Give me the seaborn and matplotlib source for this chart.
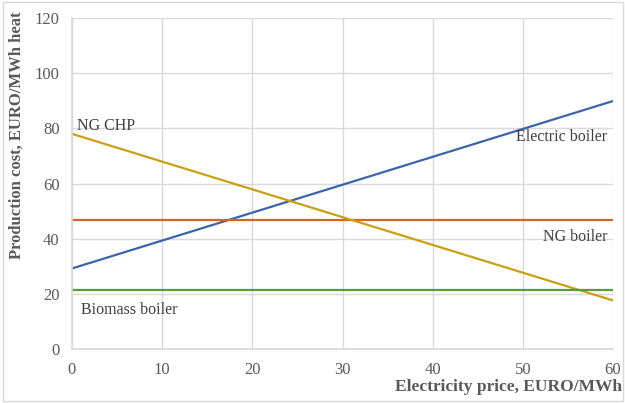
import numpy as np
import pandas as pd
import matplotlib
matplotlib.use("Agg")
import matplotlib.pyplot as plt
import seaborn as sns

# electricity price (EURO/MWh) at line ends
price = [0, 60]
electric_boiler = [29.2, 89.9]
ng_boiler = [46.6, 46.6]
ng_chp = [78.0, 17.6]
biomass_boiler = [21.3, 21.3]

series = ["Electric boiler", "NG boiler", "NG CHP", "Biomass boiler"]
df = pd.DataFrame({
    "price": price * 4,
    "cost": electric_boiler + ng_boiler + ng_chp + biomass_boiler,
    "tech": [s for s in series for _ in price],
})

palette = {"Electric boiler": "#3C63AC", "NG boiler": "#D6651F",
           "NG CHP": "#C9A012", "Biomass boiler": "#5A9A3A"}

sns.set_theme(style="whitegrid")
plt.rcParams['font.family'] = ['Liberation Serif', 'DejaVu Serif']
grey = "#595959"

fig = plt.figure(figsize=(6.25, 4.03), dpi=100)
ax = fig.add_axes([72/625, 1 - 349/403, (613-72)/625, (349-18)/403])

sns.lineplot(data=df, x="price", y="cost", hue="tech", palette=palette,
             linewidth=1.6, legend=False, ax=ax)

ax.set_xlim(0, 60)
ax.set_ylim(0, 120)
ax.set_xticks(np.arange(0, 61, 10))
ax.set_yticks(np.arange(0, 121, 20))
ax.grid(True, color="#D9D9D9", linewidth=1)
for side in ["top", "right"]:
    ax.spines[side].set_visible(False)
ax.spines["left"].set_color("#D9D9D9")
ax.spines["bottom"].set_color("#D9D9D9")
ax.tick_params(axis="both", colors=grey, labelsize=12, length=0, pad=9)

ax.set_xlabel("Electricity price, EURO/MWh", fontsize=12.5, fontweight="bold",
              color=grey, loc="right")
ax.xaxis.set_label_coords(1.017, -0.09)
ax.set_ylabel("Production cost, EURO/MWh heat", fontsize=12, fontweight="bold",
              color=grey, loc="top")
ax.yaxis.set_label_coords(-0.087, 1.02)

txt = dict(fontsize=11.5, color="#404040")
ax.text(0.6, 80.8, "NG CHP", ha="left", va="center", **txt)
ax.text(59.4, 77.0, "Electric boiler", ha="right", va="center", **txt)
ax.text(59.4, 40.5, "NG boiler", ha="right", va="center", **txt)
ax.text(1, 14.0, "Biomass boiler", ha="left", va="center", **txt)

# light border round the figure
fig.patches.append(plt.Rectangle((0.004, 0.004), 0.992, 0.992, transform=fig.transFigure,
                                 fill=False, edgecolor="#D9D9D9", linewidth=1))

fig.savefig("out.png", dpi=100)
